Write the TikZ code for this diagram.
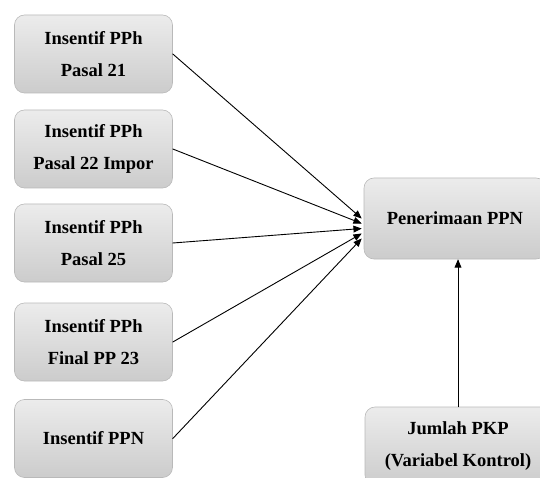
\documentclass[tikz,border=0pt]{standalone}
\usepackage{fontspec}
\newfontfamily\huruf{Liberation Serif}[BoldFont={Liberation Serif Bold}]
\usepackage{tikz}
\usetikzlibrary{arrows}

\begin{document}
\begin{tikzpicture}[x=1pt,y=1pt,line cap=round,line join=round,>=triangle 45,
  kotak/.style={draw=gray!55,line width=0.6pt,rounded corners=10pt,top color=gray!15,bottom color=gray!40,minimum width=158pt,minimum height=78pt,align=center,font=\fontsize{18.5}{32}\selectfont\huruf\bfseries},
  panah/.style={->,line width=0.9pt}]
\useasboundingbox (0,0) rectangle (540,477);
\clip (0,0) rectangle (540,477);
% variabel independen
\node[kotak] (pph21) at (93.5,423) {Insentif PPh\\Pasal 21};
\node[kotak] (pph22) at (93.5,328) {Insentif PPh\\Pasal 22 Impor};
\node[kotak] (pph25) at (93.5,234) {Insentif PPh\\Pasal 25};
\node[kotak] (pph23) at (93.5,135) {Insentif PPh\\Final PP 23};
\node[kotak] (ppn) at (93.5,38.5) {Insentif PPN};
% variabel dependen dan kontrol
\node[kotak,minimum width=182pt,minimum height=81pt] (terima) at (455,258.5) {Penerimaan PPN};
\node[kotak,minimum width=186pt] (pkp) at (458,31) {Jumlah PKP\\(Variabel Kontrol)};
% panah
\draw[panah] (pph21.east) -- ([xshift=-2pt]terima.west);
\draw[panah] (pph22.east) -- ([xshift=-2pt,yshift=-5pt]terima.west);
\draw[panah] (pph25.east) -- ([xshift=-2pt,yshift=-10pt]terima.west);
\draw[panah] (pph23.east) -- ([xshift=-2pt,yshift=-15pt]terima.west);
\draw[panah] (ppn.east) -- ([xshift=-2pt,yshift=-20pt]terima.west);
\draw[panah] (pkp.north) -- (pkp.north |- terima.south);
\end{tikzpicture}
\end{document}
